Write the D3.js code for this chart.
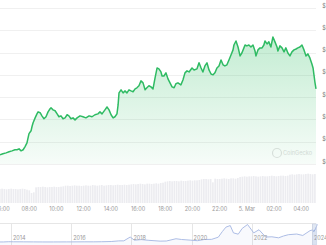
<!DOCTYPE html>
<html>
<head>
<meta charset="utf-8">
<script src="https://cdn.jsdelivr.net/npm/d3@7"></script>
<style>
  html, body { margin: 0; padding: 0; background: #fff; overflow: hidden; }
  text { font-family: "Inter", "DejaVu Sans", sans-serif; }
</style>
</head>
<body>
<script>
// price, minutes after 06:00 UTC on 4 Mar 2024
var priceMinutes = [-9,4,18,31,44,57,66,75,84,93,101,110,115,119,128,132,137,146,154,159,168,176,185,194,203,212,216,225,234,243,251,260,269,278,287,295,304,313,322,331,344,357,370,384,397,410,423,432,441,454,463,472,481,490,498,507,512,516,525,534,542,551,560,569,578,587,595,604,613,622,631,639,648,657,666,675,684,692,701,706,714,723,732,741,750,759,767,776,789,798,807,816,825,838,847,860,869,878,886,895,904,913,922,931,939,948,957,966,975,983,992,1001,1010,1019,1023,1032,1041,1050,1058,1067,1072,1080,1089,1098,1107,1116,1120,1129,1138,1147,1155,1160,1169,1177,1186,1195,1204,1213,1217,1226,1235,1244,1252,1261,1270,1279,1288,1297,1305,1314,1323,1332,1341,1349,1358,1367,1372,1376,1380,1385];
var priceValues = [63410,63460,63500,63550,63590,63640,63640,63680,63590,63640,63770,63950,64180,64360,64490,64670,64850,65070,65250,65340,65300,65160,65030,65120,65340,65480,65520,65430,65390,65250,65120,65160,65030,65070,65210,65160,65030,65070,64980,65070,65160,65120,65070,65160,65120,65210,65250,65340,65250,65430,65560,65430,65210,65070,65120,65250,65650,66190,66330,66190,66280,66190,66330,66280,66240,66370,66420,66510,66730,66640,66330,66420,66510,66460,66370,66860,67310,67270,67130,66950,66950,67090,66820,66640,66460,66420,66600,66640,66550,66770,67090,67180,67130,67310,67220,67270,67540,67310,67130,67400,67540,67220,67040,67000,67090,67310,67400,67670,67450,67400,67450,67670,67890,68120,68340,68520,68250,67850,67980,68210,68340,68300,68340,68250,68340,68070,67850,68120,68210,68210,68340,68520,68390,68480,68250,68700,68480,68250,68070,68300,68210,68030,68210,67980,67850,68030,68120,68160,68210,68250,68340,68120,67850,67940,67760,67490,67310,67000,66690,66370];

// 24h volume (billion $), one bar every 10 min from 05:50
var volumeValues = [21,21.5,21,20.5,21,21.5,21,21,20.5,21,21.5,21,20,19,
  15,16,
  23.5,24,24,24.5,24,23.5,24,24,24.5,24,24,24.5,25,
  26,26,25.5,26,26.5,26,26,25.5,26,26.5,26,26,27,26.5,26,26.5,27,26,26.5,27,27,26.5,27,27.5,27,27,27.5,27,27.5,
  28,28.5,28,28.5,29,28.5,28,29,29,28.5,29,29.5,29,30,30.5,
  32,32.5,33,32.5,33,33,32.5,33.5,33,33,33.5,34,33.5,34,34,34.5,
  35.5,36,36,35.5,36,31,36.5,36,36,36.5,37,36.5,36,37,37,36.5,37.5,
  39,39.5,40,39.5,40,40,40.5,40,39.5,40,40.5,40,40,40.5,41,40.5,40,40.5,41,41,40.5,41,
  42.5,43,42.5,43,43.5,43,43,43.5,44,43.5,43,43.5];

var priceTicks = [63000,64000,65000,66000,67000,68000,69000,70000];

// navigator: long history
var navDates = ["2013-04-28","2013-10-01","2013-12-04","2014-02-01","2014-06-01","2014-10-01","2015-01-15","2015-06-01","2015-11-04","2016-01-01","2016-06-15","2016-10-01","2017-01-01","2017-05-01","2017-08-01","2017-10-01","2017-12-17","2018-02-06","2018-05-01","2018-08-01","2018-12-15","2019-03-01","2019-06-26","2019-09-01","2019-12-15","2020-03-13","2020-06-01","2020-09-01","2020-11-20","2021-01-08","2021-02-21","2021-04-14","2021-05-23","2021-07-20","2021-09-06","2021-11-10","2022-01-24","2022-03-29","2022-06-18","2022-09-01","2022-11-21","2023-01-20","2023-03-20","2023-06-30","2023-09-11","2023-12-08","2024-01-10","2024-01-23","2024-02-14","2024-02-28","2024-03-05"];
var navPrices = [135,130,1100,800,620,380,200,230,400,430,700,610,1000,1800,4300,4400,19000,7000,9200,6400,3300,3800,12500,9600,7200,5000,9500,10200,18500,40000,57000,63000,35000,30000,52000,67000,35000,47000,19000,20000,16000,23000,28000,30500,25000,43500,46500,39500,51500,62000,68000];
var navYearTicks = [2014,2016,2018,2020,2022,2024];

var W = 326, H = 245;
var plotR = 316;
var t0 = Date.UTC(2024,2,4,6,0);

var pts = priceMinutes.map(function(m,i){ return {t:new Date(t0 + m*60000), p:priceValues[i]}; });

var x = d3.scaleUtc()
  .domain([pts[0].t, pts[pts.length-1].t])
  .range([0, plotR]);
var y = d3.scaleLinear().domain([63000,70000]).range([164,8]);
var yVol = d3.scaleLinear().domain([0,45]).range([203,173]);

var svg = d3.select("body").append("svg")
  .attr("width", W)
  .attr("height", H);

var grad = svg.append("defs").append("linearGradient")
  .attr("id","areaFill")
  .attr("gradientUnits","userSpaceOnUse")
  .attr("x1",0).attr("y1",8).attr("x2",0).attr("y2",164);
grad.append("stop").attr("offset","0%").attr("stop-color","#2ebd62").attr("stop-opacity",0.34);
grad.append("stop").attr("offset","100%").attr("stop-color","#2ebd62").attr("stop-opacity",0.04);

// grid
svg.append("g")
  .selectAll("line")
  .data(priceTicks)
  .enter()
  .append("line")
  .attr("x1",0).attr("x2",plotR)
  .attr("y1",function(d){ return Math.round(y(d))+0.5; })
  .attr("y2",function(d){ return Math.round(y(d))+0.5; })
  .attr("stroke","#f0f0f0")
  .attr("stroke-width",1);

// y labels (cut by the window, as in the source)
svg.append("g")
  .selectAll("text")
  .data(priceTicks)
  .enter()
  .append("text")
  .attr("x",322.3)
  .attr("y",function(d){ return y(d) - 2; })
  .attr("dominant-baseline","middle")
  .attr("font-size",5.5)
  .attr("fill","#777")
  .text(function(d){ return "$" + d3.format(",")(d); });

// watermark
svg.append("circle")
  .attr("cx",277).attr("cy",153).attr("r",4.5)
  .attr("fill","none").attr("stroke","#e2e2e2").attr("stroke-width",1.2);
svg.append("text")
  .attr("x",283).attr("y",153)
  .attr("dominant-baseline","middle")
  .attr("font-size",5.6)
  .attr("fill","#dcdcdc")
  .text("CoinGecko");

// volume
var vStep = 2.27;
svg.append("g")
  .selectAll("rect")
  .data(volumeValues)
  .enter()
  .append("rect")
  .attr("x",function(d,i){ return x(new Date(t0 + (-10 + 10*i)*60000)) - 0.8; })
  .attr("width",vStep - 0.6)
  .attr("y",function(d){ return yVol(d); })
  .attr("height",function(d){ return yVol(0) - yVol(d); })
  .attr("fill","#ececf0");

// price area + line
var area = d3.area()
  .x(function(d){ return x(d.t); })
  .y0(164)
  .y1(function(d){ return y(d.p); });
var line = d3.line()
  .x(function(d){ return x(d.t); })
  .y(function(d){ return y(d.p); });

svg.append("path")
  .datum(pts)
  .attr("d",area)
  .attr("fill","url(#areaFill)");
svg.append("path")
  .datum(pts)
  .attr("d",line)
  .attr("fill","none")
  .attr("stroke","#2fbb63")
  .attr("stroke-width",1.5)
  .attr("stroke-linejoin","round");

// x axis labels
var hourFmt = d3.utcFormat("%H:%M"), dayFmt = d3.utcFormat("%-d. %b");
svg.append("g")
  .selectAll("text")
  .data(x.ticks(d3.utcHour.every(2)))
  .enter()
  .append("text")
  .attr("x",function(d){ return x(d); })
  .attr("y",209)
  .attr("text-anchor","middle")
  .attr("dominant-baseline","middle")
  .attr("font-size",5.5)
  .attr("fill","#999")
  .text(function(d){ return d.getUTCHours() === 0 ? dayFmt(d) : hourFmt(d); });

// navigator
var nx = d3.scaleUtc()
  .domain([new Date(Date.UTC(2014,0,1)), new Date(Date.UTC(2024,0,1))])
  .range([11,312]);
var ny = d3.scaleLinear().domain([0,69000]).range([242,224]);
var navPts = navDates.map(function(d,i){ return {t:new Date(d + "T00:00:00Z"), p:navPrices[i]}; });

var nav = svg.append("g");
nav.append("line")
  .attr("x1",0).attr("x2",plotR)
  .attr("y1",223.5).attr("y2",223.5)
  .attr("stroke","#e6e6e6");
nav.selectAll("line.yr")
  .data(navYearTicks)
  .enter()
  .append("line")
  .attr("class","yr")
  .attr("x1",function(d){ return Math.round(nx(new Date(Date.UTC(d,0,1))))+0.5; })
  .attr("x2",function(d){ return Math.round(nx(new Date(Date.UTC(d,0,1))))+0.5; })
  .attr("y1",224).attr("y2",H)
  .attr("stroke","#e6e6e6");
nav.append("path")
  .datum(navPts)
  .attr("d",d3.area().x(function(d){ return nx(d.t); }).y0(H).y1(function(d){ return ny(d.p); }))
  .attr("fill","rgba(110,140,210,0.05)");
nav.append("path")
  .datum(navPts)
  .attr("d",d3.line().x(function(d){ return nx(d.t); }).y(function(d){ return ny(d.p); }))
  .attr("fill","none")
  .attr("stroke","#a4b6e2")
  .attr("stroke-width",0.9);
nav.selectAll("text")
  .data(navYearTicks)
  .enter()
  .append("text")
  .attr("x",function(d){ return nx(new Date(Date.UTC(d,0,1))) + 2; })
  .attr("y",238)
  .attr("dominant-baseline","middle")
  .attr("font-size",5.5)
  .attr("fill","#999")
  .text(function(d){ return d; });

// selected range
nav.append("rect")
  .attr("x",312.5).attr("y",224)
  .attr("width",4).attr("height",H-224)
  .attr("fill","rgba(102,133,194,0.2)")
  .attr("stroke","#c9d2e6")
  .attr("stroke-width",0.6);
</script>
</body>
</html>
